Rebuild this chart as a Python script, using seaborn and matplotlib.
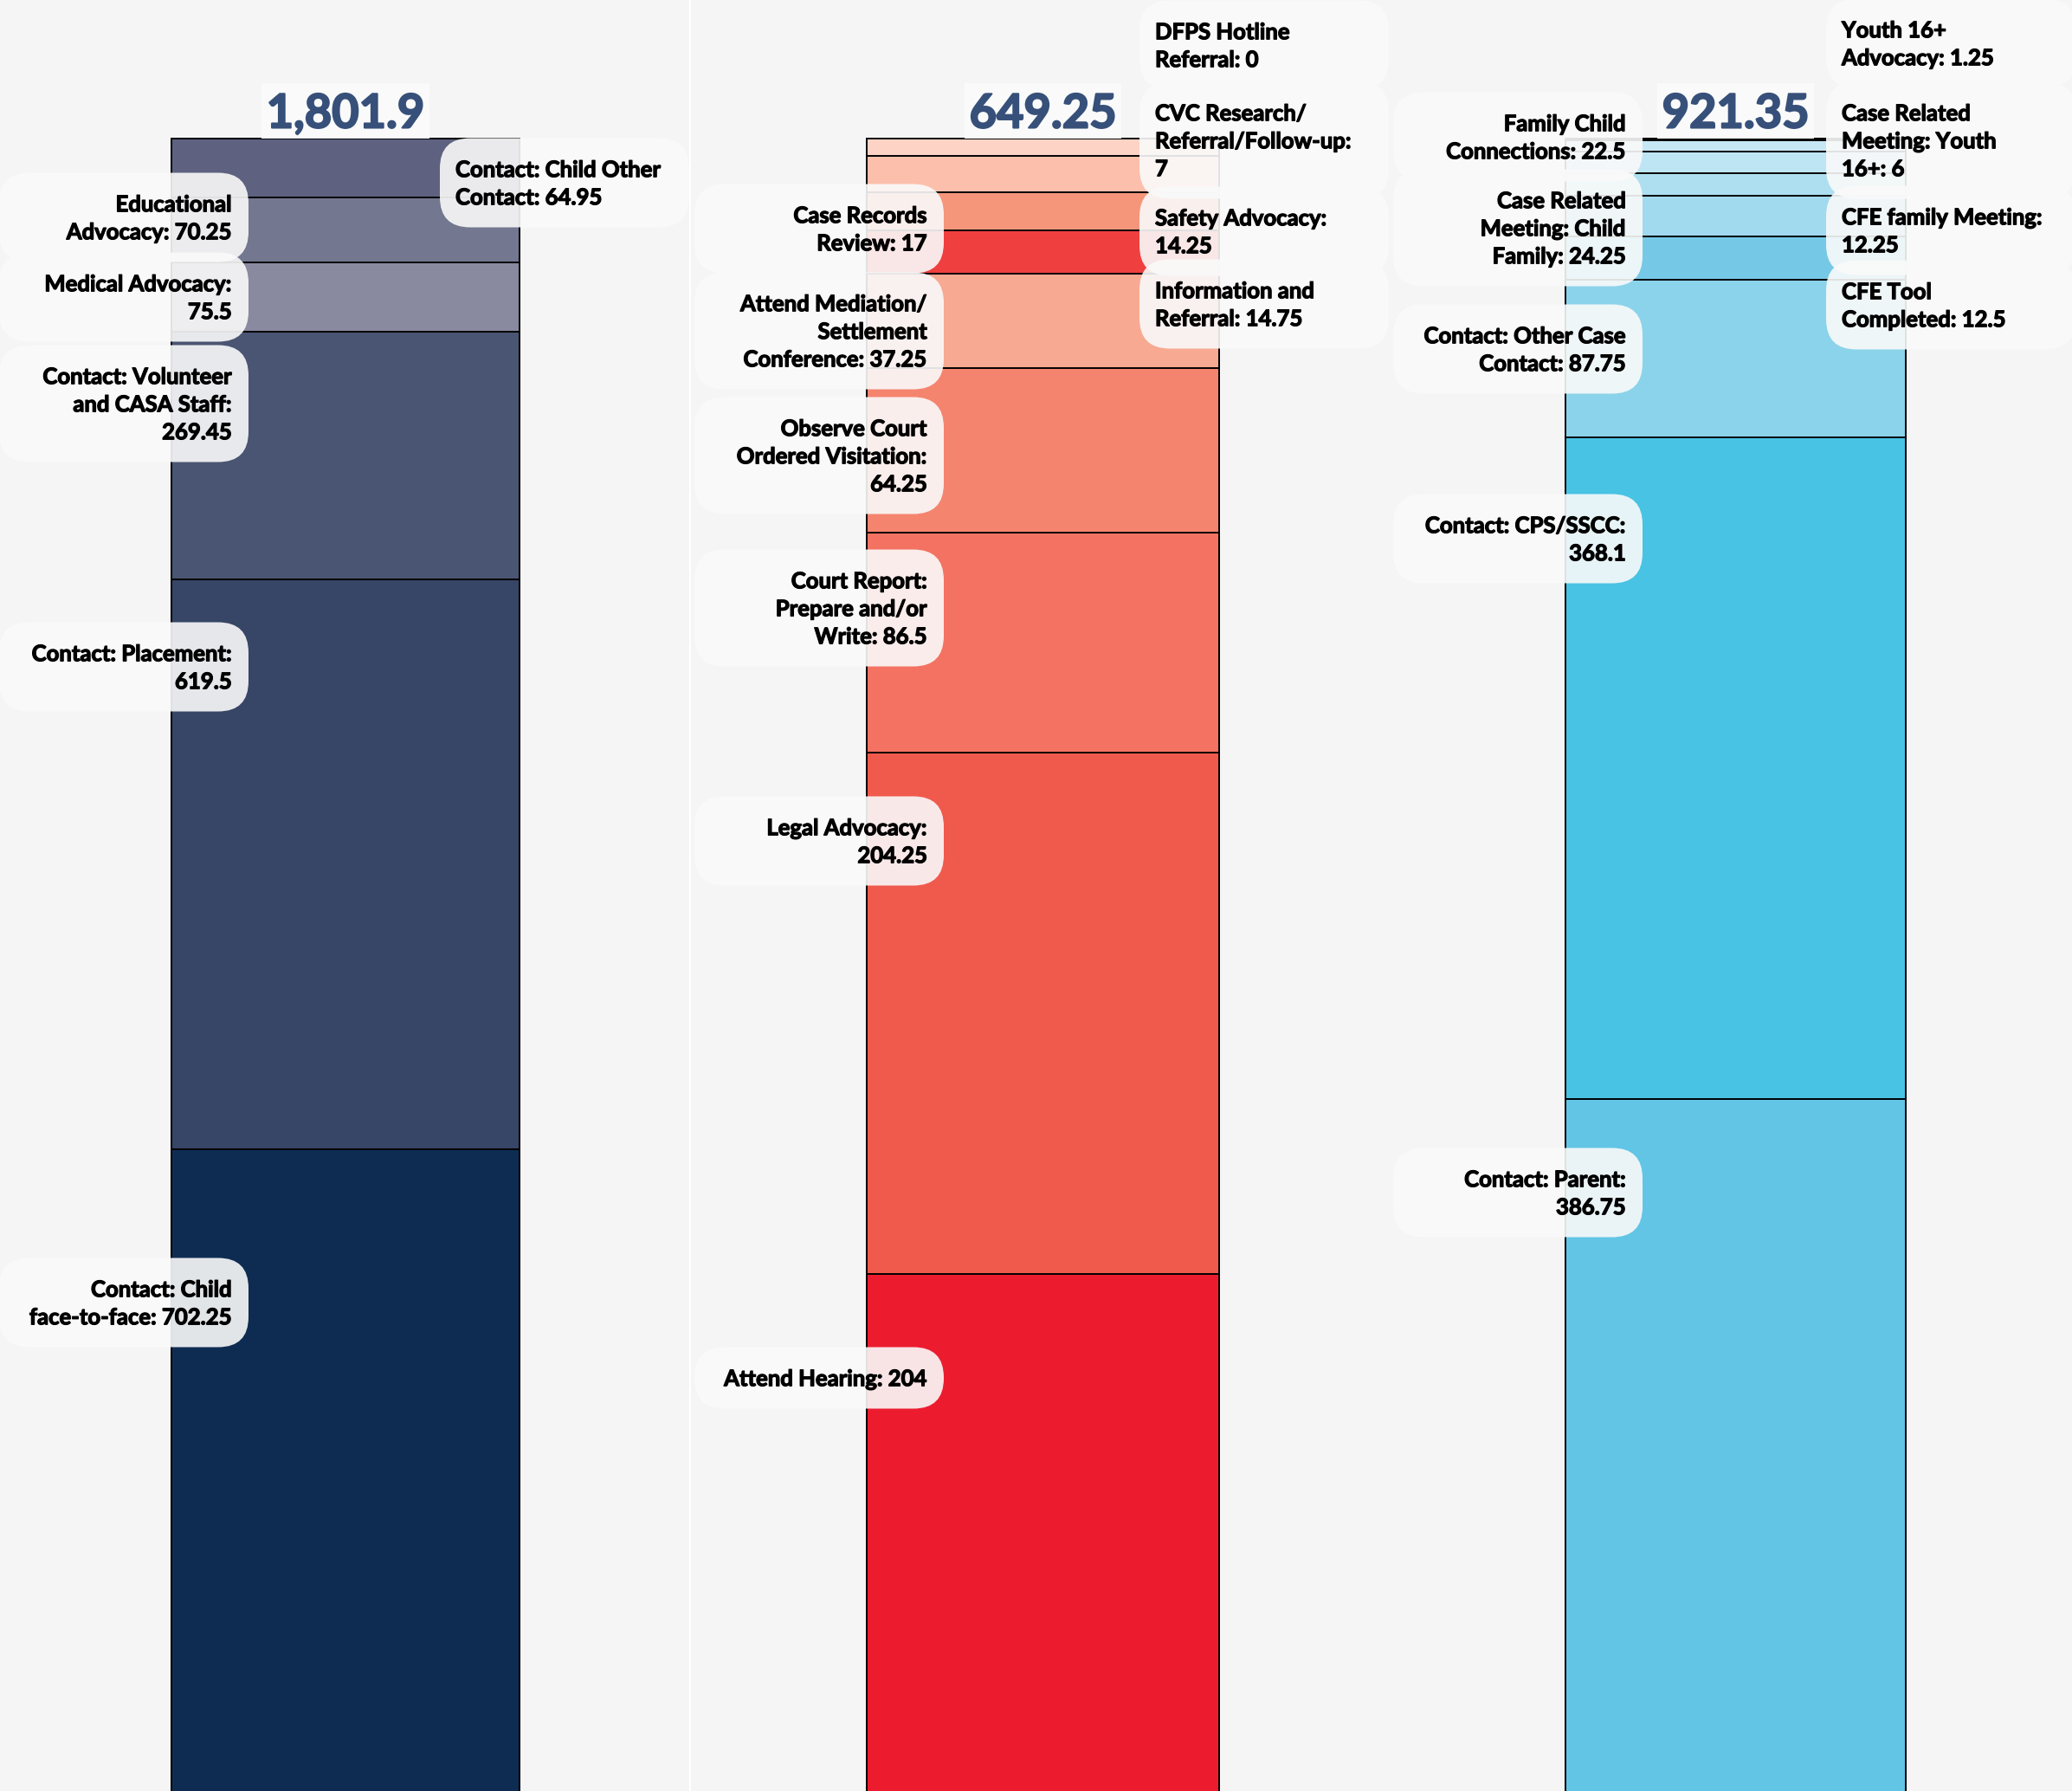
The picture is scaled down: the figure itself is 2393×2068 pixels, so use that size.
import pandas as pd
import matplotlib.pyplot as plt
import matplotlib.patheffects as pe
import seaborn as sns
from matplotlib.patches import FancyBboxPatch, Rectangle
from matplotlib.transforms import IdentityTransform
from matplotlib.lines import Line2D

# Segments are listed top to bottom, as they appear in each stacked bar.
# '\n' marks where the label text wraps; *_value_break says if the value starts a new line.
left_names = ['Contact: Child Other\nContact', 'Educational\nAdvocacy', 'Medical Advocacy',
              'Contact: Volunteer\nand CASA Staff', 'Contact: Placement', 'Contact: Child\nface-to-face']
left_values = [64.95, 70.25, 75.5, 269.45, 619.5, 702.25]
left_value_break = [False, False, True, True, True, False]
left_side = ['R', 'L', 'L', 'L', 'L', 'L']
left_colors = ['#5e6280', '#73778f', '#898aa0', '#4a5573', '#374566', '#0e2c52']

mid_names = ['DFPS Hotline\nReferral', 'CVC Research/\nReferral/Follow-up', 'Safety Advocacy',
             'Information and\nReferral', 'Case Records\nReview', 'Attend Mediation/\nSettlement\nConference',
             'Observe Court\nOrdered Visitation', 'Court Report:\nPrepare and/or\nWrite', 'Legal Advocacy',
             'Attend Hearing']
mid_values = [0, 7, 14.25, 14.75, 17, 37.25, 64.25, 86.5, 204.25, 204]
mid_value_break = [False, True, True, False, False, False, True, False, True, False]
mid_side = ['R', 'R', 'R', 'R', 'L', 'L', 'L', 'L', 'L', 'L']
mid_colors = ['#fde0d6', '#fdd3c6', '#fbbfab', '#f5967b', '#ef3f3e',
              '#f7a991', '#f5846f', '#f37262', '#f05a4d', '#ec1c2e']

right_names = ['Youth 16+\nAdvocacy', 'Case Related\nMeeting: Youth\n16+', 'CFE family Meeting',
               'CFE Tool\nCompleted', 'Family Child\nConnections', 'Case Related\nMeeting: Child\nFamily',
               'Contact: Other Case\nContact', 'Contact: CPS/SSCC', 'Contact: Parent']
right_values = [1.25, 6, 12.25, 12.5, 22.5, 24.25, 87.75, 368.1, 386.75]
right_value_break = [False, False, True, False, False, False, False, True, True]
right_side = ['R', 'R', 'R', 'R', 'L', 'L', 'L', 'L', 'L']
right_colors = ['#d4eef8', '#c6e8f5', '#bde5f3', '#aedff0', '#a1d9ee',
                '#76c9e6', '#8bd3ea', '#48c3e3', '#62c5e5']

# layout (pixels, measured from the top-left of the image)
W, H = 2393, 2068
DPI = 100
BAR_PX = [(198, 600), (1001, 1408), (1808, 2201)]
LABEL_Y = [[211, 251, 343, 466, 770, 1504],
           [52, 162, 267, 351, 264, 382, 526, 702, 971, 1591],
           [50, 162, 266, 352, 158, 263, 403, 622, 1377]]
BAR_TOP_PX = 159.5
AX_BOTTOM_PX = 2072

sns.set_theme(style='white')
plt.rcParams['font.family'] = ['Lato', 'DejaVu Sans']

BG = '#f5f5f5'
fig = plt.figure(figsize=(W / DPI, H / DPI), dpi=DPI, facecolor=BG)

panels = [
    (left_names, left_values, left_value_break, left_side, left_colors),
    (mid_names, mid_values, mid_value_break, mid_side, mid_colors),
    (right_names, right_values, right_value_break, right_side, right_colors),
]

FS = 18.5
CAP = 0.72 * FS * DPI / 72
LS = 32
BOX_W = 288
ident = IdentityTransform()
heavy = [pe.Stroke(linewidth=0.9, foreground='black'), pe.Normal()]

totals = []
for i, (names, values, vbreak, side, colors) in enumerate(panels):
    panel_w = W / 3
    x0 = i * panel_w
    ax = fig.add_axes([i / 3, -(AX_BOTTOM_PX - H) / H, 1 / 3, AX_BOTTOM_PX / H])
    ax.set_facecolor('none')

    # stacked bar via overlapping cumulative bars (tallest drawn first)
    cum = pd.Series(values[::-1]).cumsum()[::-1].values
    df = pd.DataFrame({'bar': 'all', 'segment': names, 'cum': cum})
    sns.barplot(data=df, x='bar', y='cum', hue='segment', hue_order=names,
                palette=dict(zip(names, colors)), dodge=False, width=0.8,
                saturation=1, errorbar=None, edgecolor='black', linewidth=1.4,
                legend=False, ax=ax)

    total = sum(values)
    p0, p1 = BAR_PX[i]
    s = (p1 - p0) / 0.8
    xl = -0.4 - (p0 - x0) / s
    ax.set_xlim(xl, xl + panel_w / s)
    ax.set_ylim(0, total * AX_BOTTOM_PX / (AX_BOTTOM_PX - BAR_TOP_PX))
    ax.axis('off')

    # segment labels in rounded boxes
    for name, v, br, sd, ly in zip(names, values, vbreak, side, LABEL_Y[i]):
        text = f"{name}:{chr(10) if br else ' '}{v:g}"
        lines = text.split('\n')
        n = len(lines)
        bh = 71 + LS * (n - 1)
        if sd == 'L':
            bx1 = p0 + 89
            bx0 = bx1 - BOX_W
            tx, ha = bx1 - 19, 'right'
        else:
            bx0 = p1 - 92
            tx, ha = bx0 + 18, 'left'
        by0 = ly - bh / 2
        fig.add_artist(FancyBboxPatch((bx0, H - by0 - bh), BOX_W, bh,
                                      boxstyle='round,pad=0,rounding_size=35',
                                      transform=ident, facecolor='#fafafa',
                                      alpha=0.9, edgecolor='none', zorder=2))
        first = ly - ((n - 1) * LS + CAP) / 2 + CAP
        for k, line in enumerate(lines):
            fig.text(tx, H - (first + k * LS), line, transform=ident, ha=ha,
                     va='baseline', fontsize=FS, fontweight='bold', color='black',
                     zorder=4, path_effects=heavy)

    # total above the bar
    cx = (p0 + p1) / 2
    top_disp = ax.transData.transform((0, total))[1]
    t = fig.text(cx, top_disp + 12, f"{total:,.2f}".rstrip('0').rstrip('.'),
                 transform=ident, ha='center', va='baseline', fontsize=39,
                 fontweight='bold', color='#36507a', zorder=4,
                 path_effects=[pe.Stroke(linewidth=1.5, foreground='#36507a'), pe.Normal()])
    totals.append((t, top_disp))

fig.add_artist(Line2D([797, 797], [0, H], transform=ident, color='white',
                      linewidth=1.5, zorder=1))

fig.canvas.draw()
r = fig.canvas.get_renderer()
for t, top_disp in totals:
    ext = t.get_window_extent(r)
    fig.add_artist(Rectangle((ext.x0 - 6, top_disp), ext.width + 12, 64,
                             transform=ident, facecolor='#fafafa',
                             edgecolor='none', zorder=3))

fig.savefig('out.png', dpi=DPI, facecolor=BG)
